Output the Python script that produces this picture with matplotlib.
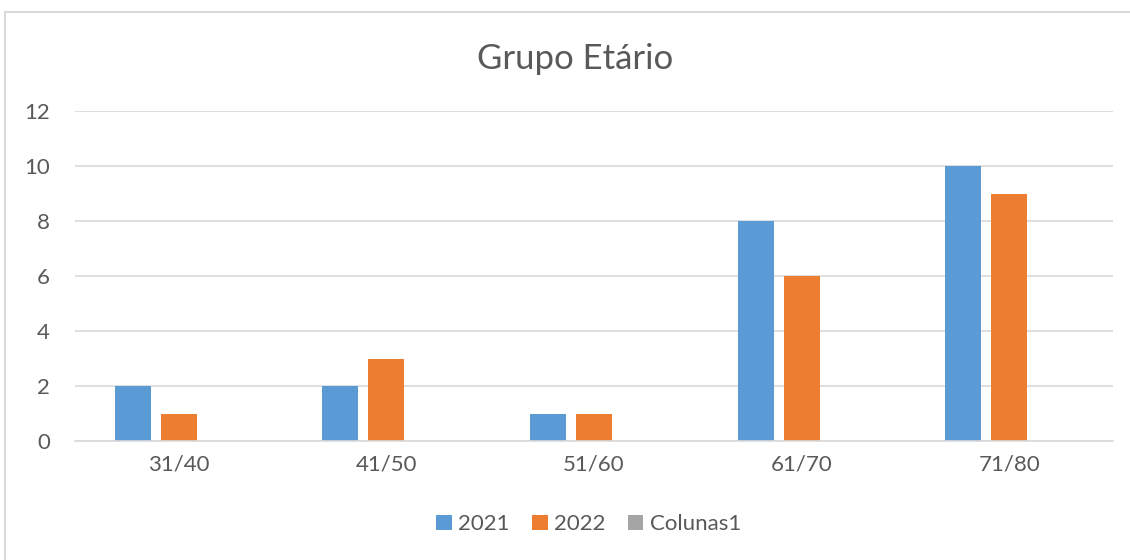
import matplotlib.pyplot as plt
import numpy as np
from matplotlib.patches import Rectangle

# chart data
categories = ["31/40", "41/50", "51/60", "61/70", "71/80"]
series_names = ["2021", "2022", "Colunas1"]
values_2021 = [2, 2, 1, 8, 10]
values_2022 = [1, 3, 1, 6, 9]
values_colunas1 = [0, 0, 0, 0, 0]
yticks = [0, 2, 4, 6, 8, 10, 12]

colors = ["#5B9BD5", "#ED7D31", "#A5A5A5"]
text_color = "#595959"
grid_color = "#D9D9D9"

plt.rcParams['font.family'] = ['Lato', 'DejaVu Sans']

fig = plt.figure(figsize=(11.3, 5.6), dpi=100)
fig.patches.append(Rectangle((5 / 1130, -0.1), 1.2, 0.1 + 548 / 560,
                             transform=fig.transFigure, fill=False,
                             edgecolor=grid_color, linewidth=1.5))

ax = fig.add_axes([75 / 1130, 119 / 560, 1038 / 1130, 330 / 560])

x = np.arange(len(categories))
bar_w = 0.173
step = 0.2216
all_values = [values_2021, values_2022, values_colunas1]
for i, (name, vals) in enumerate(zip(series_names, all_values)):
    ax.bar(x + (i - 1) * step, vals, width=bar_w, color=colors[i], label=name, zorder=3)

ax.set_xlim(-0.5, len(categories) - 0.5)
ax.set_ylim(0, 12)
ax.set_yticks(yticks)
ax.set_xticks(x)
ax.set_xticklabels(categories)
ax.yaxis.grid(True, color=grid_color, linewidth=1.2, zorder=0)
ax.tick_params(axis='both', length=0, labelsize=16, colors=text_color)
ax.tick_params(axis='x', pad=10)
ax.tick_params(axis='y', pad=18)
for side in ['top', 'right', 'left']:
    ax.spines[side].set_visible(False)
ax.spines['bottom'].set_color(grid_color)
ax.spines['bottom'].set_linewidth(1.2)
ax.spines['bottom'].set_zorder(4)

fig.text(0.509, 0.895, "Grupo Etário", ha='center', va='center',
         fontsize=25, color=text_color)

fig.legend(loc='center', bbox_to_anchor=(0.521, 0.064), ncol=3, frameon=False,
           fontsize=16, labelcolor=text_color, handlelength=0.7, handleheight=0.7,
           handletextpad=0.3, columnspacing=1.0)

fig.savefig("out.png", dpi=100)
